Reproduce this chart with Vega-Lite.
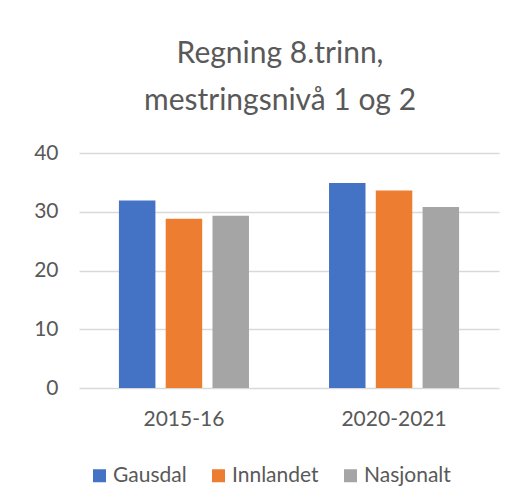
{
  "$schema": "https://vega.github.io/schema/vega-lite/v6.json",
  "width": 420,
  "height": 235,
  "autosize": {"type": "none"},
  "padding": {"left": 79, "top": 153, "right": 24, "bottom": 113},
  "background": "white",
  "title": {
    "text": ["Regning 8.trinn,", "mestringsnivå 1 og 2"],
    "font": "Lato",
    "fontSize": 30,
    "fontWeight": "normal",
    "color": "#595959",
    "lineHeight": 47,
    "anchor": "middle",
    "frame": "group",
    "dx": -9,
    "offset": 26
  },
  "data": {
    "values": [
      {"periode": "2015-16", "område": "Gausdal", "verdi": 31.9},
      {"periode": "2015-16", "område": "Innlandet", "verdi": 28.8},
      {"periode": "2015-16", "område": "Nasjonalt", "verdi": 29.3},
      {"periode": "2020-2021", "område": "Gausdal", "verdi": 34.9},
      {"periode": "2020-2021", "område": "Innlandet", "verdi": 33.6},
      {"periode": "2020-2021", "område": "Nasjonalt", "verdi": 30.8}
    ]
  },
  "mark": {"type": "bar"},
  "encoding": {
    "x": {
      "field": "periode",
      "type": "nominal",
      "sort": null,
      "scale": {"paddingInner": 0.381, "paddingOuter": 0.19},
      "axis": {
        "title": null,
        "labelAngle": 0,
        "labelFont": "Lato",
        "labelFontSize": 21,
        "labelColor": "#595959",
        "labelPadding": 20,
        "ticks": false,
        "domain": false
      }
    },
    "xOffset": {
      "field": "område",
      "type": "nominal",
      "sort": null,
      "scale": {"paddingInner": 0.22, "paddingOuter": 0}
    },
    "y": {
      "field": "verdi",
      "type": "quantitative",
      "scale": {"domain": [0, 40], "nice": false},
      "axis": {
        "title": null,
        "values": [0, 10, 20, 30, 40],
        "labelFont": "Lato",
        "labelFontSize": 21,
        "labelColor": "#595959",
        "labelPadding": 21,
        "ticks": false,
        "domain": false,
        "grid": true,
        "gridColor": "#d9d9d9",
        "gridWidth": 1.5
      }
    },
    "color": {
      "field": "område",
      "type": "nominal",
      "sort": null,
      "scale": {"domain": ["Gausdal", "Innlandet", "Nasjonalt"], "range": ["#4472C4", "#ED7D31", "#A5A5A5"]},
      "legend": {
        "title": null,
        "orient": "none",
        "legendX": 10,
        "legendY": 312,
        "direction": "horizontal",
        "symbolType": "square",
        "symbolSize": 169,
        "symbolStrokeWidth": 0,
        "labelFont": "Lato",
        "labelFontSize": 21,
        "labelColor": "#595959",
        "labelOffset": 3,
        "columnPadding": 21
      }
    }
  },
  "config": {"view": {"stroke": null}}
}
